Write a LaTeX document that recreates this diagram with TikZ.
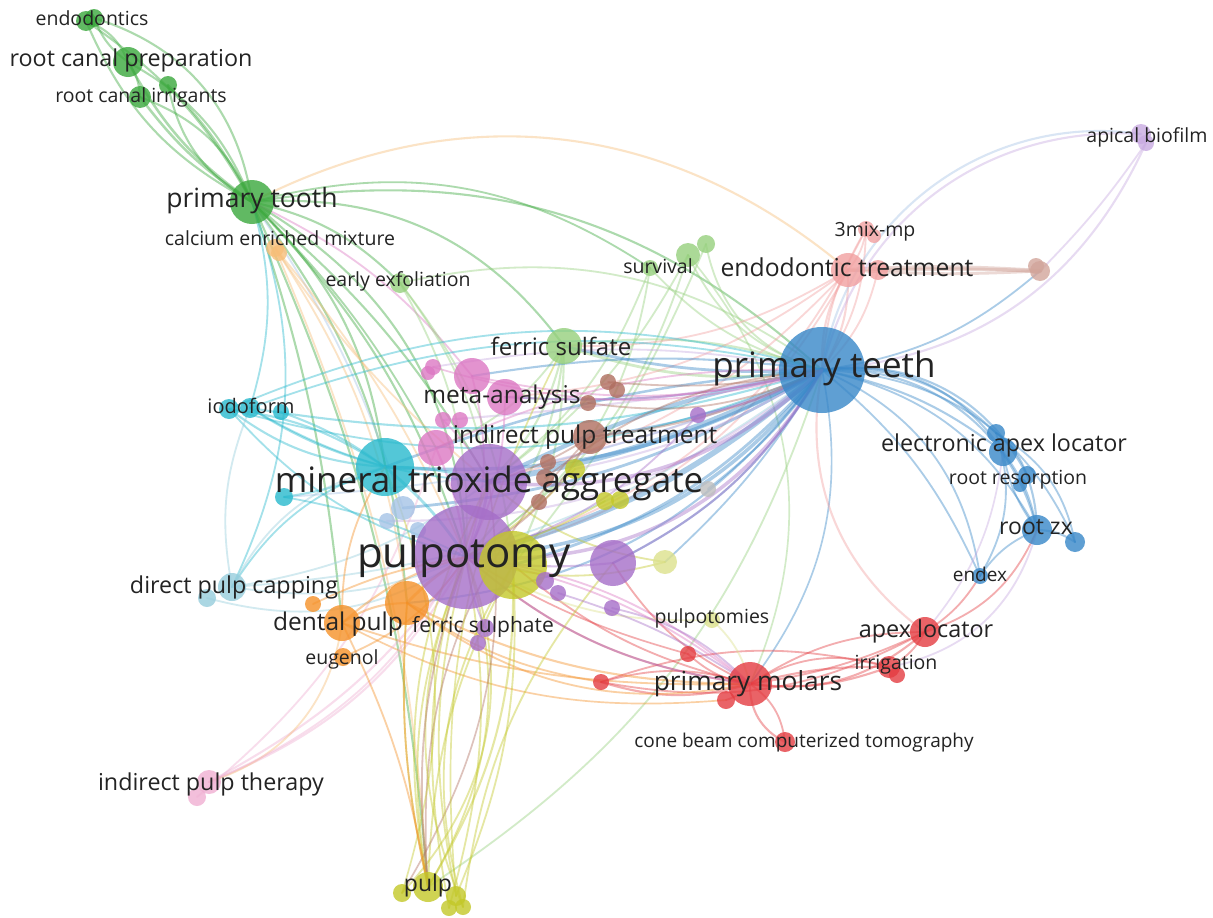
\documentclass[tikz,border=0pt]{standalone}
\usepackage{fontspec}
\setmainfont{Open Sans}
\definecolor{cG}{RGB}{58,168,60}
\definecolor{cLG}{RGB}{150,208,125}
\definecolor{cO}{RGB}{245,145,40}
\definecolor{cLO}{RGB}{247,190,120}
\definecolor{cS}{RGB}{242,160,160}
\definecolor{cBP}{RGB}{210,165,155}
\definecolor{cB}{RGB}{55,135,200}
\definecolor{cLV}{RGB}{200,170,225}
\definecolor{cR}{RGB}{228,60,65}
\definecolor{cC}{RGB}{40,185,205}
\definecolor{cLC}{RGB}{150,205,220}
\definecolor{cP}{RGB}{165,110,200}
\definecolor{cY}{RGB}{195,200,40}
\definecolor{cLY}{RGB}{220,225,140}
\definecolor{cK}{RGB}{220,120,195}
\definecolor{cLP}{RGB}{240,175,210}
\definecolor{cBR}{RGB}{175,110,95}
\definecolor{cLB}{RGB}{165,195,230}
\definecolor{cGR}{RGB}{190,190,190}
\definecolor{txt}{RGB}{35,35,35}
\tikzset{
  lk/.style={draw opacity=0.42, line cap=round},
  dot/.style={circle, inner sep=0pt, draw=none, fill opacity=0.8},
  lbl/.style={font=\fontsize{#1}{#1}\selectfont, text=txt, inner sep=0pt, anchor=base, yshift=-0.27*#1pt}
}
\begin{document}
\begin{tikzpicture}[x=1pt,y=-1pt]
\useasboundingbox (0,0) rectangle (1213,918);
\fill[white] (0,0) rectangle (1213,918);
% coordinates
\coordinate (g1) at (86,21); \coordinate (g1b) at (94,18);
\coordinate (g2) at (128,62); \coordinate (g3) at (140,97); \coordinate (g3b) at (168,85);
\coordinate (g4) at (252,202);
\coordinate (lg1) at (400,283); \coordinate (lg2) at (564,346); \coordinate (lg3) at (650,268);
\coordinate (lg4) at (688,255); \coordinate (lg5) at (706,244);
\coordinate (o0) at (275,248); \coordinate (o0b) at (279,253);
\coordinate (o1) at (342,623); \coordinate (o2) at (407,603); \coordinate (o3) at (313,604); \coordinate (o4) at (343,657);
\coordinate (s1) at (848,270); \coordinate (s2) at (878,270); \coordinate (s3) at (866,229); \coordinate (s3b) at (874,236);
\coordinate (bp) at (1040,271); \coordinate (bpb) at (1036,266);
\coordinate (b1) at (822,370); \coordinate (b2) at (996,433); \coordinate (b2b) at (1003,452);
\coordinate (b3) at (1027,475); \coordinate (b3b) at (1020,485); \coordinate (b4) at (1037,530);
\coordinate (b4b) at (1075,542); \coordinate (b5) at (980,576);
\coordinate (lv1) at (1141,134); \coordinate (lv1b) at (1146,143);
\coordinate (r1) at (750,684); \coordinate (r2) at (925,632); \coordinate (r3) at (889,667); \coordinate (r3b) at (897,675);
\coordinate (r4) at (785,742); \coordinate (r5) at (601,682); \coordinate (r6) at (688,654); \coordinate (r7) at (726,700);
\coordinate (c1) at (385,467); \coordinate (c2) at (229,409); \coordinate (c3) at (250,408); \coordinate (c4) at (281,412); \coordinate (c5) at (284,497);
\coordinate (lc1) at (232,587); \coordinate (lc2) at (207,598);
\coordinate (p1) at (489,482); \coordinate (p2) at (466,557); \coordinate (p3) at (613,563); \coordinate (p4) at (698,415);
\coordinate (p5) at (558,593); \coordinate (p6) at (612,608); \coordinate (p7) at (485,628); \coordinate (p8) at (478,643); \coordinate (p9) at (545,581);
\coordinate (y1) at (513,565); \coordinate (y2) at (575,469); \coordinate (y3) at (605,501); \coordinate (y4) at (620,500);
\coordinate (y5) at (665,562); \coordinate (y6) at (712,620);
\coordinate (y7) at (428,887); \coordinate (y8) at (402,893); \coordinate (y9) at (456,896); \coordinate (y10) at (449,908); \coordinate (y11) at (463,907);
\coordinate (k1) at (472,376); \coordinate (k2) at (505,397); \coordinate (k3) at (433,367); \coordinate (k4) at (428,373);
\coordinate (k5) at (443,420); \coordinate (k6) at (460,420); \coordinate (k7) at (436,448);
\coordinate (lp1) at (209,782); \coordinate (lp2) at (197,797);
\coordinate (br1) at (590,437); \coordinate (br2) at (608,382); \coordinate (br3) at (617,390); \coordinate (br4) at (588,403);
\coordinate (br5) at (548,462); \coordinate (br6) at (545,478); \coordinate (br7) at (539,502);
\coordinate (lb1) at (403,508); \coordinate (lb2) at (387,521); \coordinate (lb3) at (418,530);
\coordinate (gr1) at (708,489);
% edges
\foreach \a/\b/\bd/\c/\w [evaluate=\bd as \bb using \bd*1.6] in {
g1/g2/15/cG/1.5, g1b/g2/-10/cG/1.5, g1/g4/-12/cG/1.5, g1/g4/8/cG/1.5, g1b/g4/20/cG/1.5,
g2/g4/-8/cG/1.8, g2/g4/12/cG/1.5, g2/g3/10/cG/1.5, g3/g4/-6/cG/1.8, g3/g4/14/cG/1.5,
g3b/g4/-15/cG/1.5, g3b/g4/5/cG/1.5, g4/p2/8/cG/1.5, g4/p2/18/cG/1.5, g4/p1/6/cG/1.5,
g4/c1/12/cG/1.5, g4/lg1/10/cG/1.5, g4/lg2/18/cG/1.5, g4/s1/21/cLO/1.5, g4/b1/16/cG/1.5,
g4/y7/6/cG/1.5, g4/o1/4/cG/1.5, g4/o2/10/cG/1.5, g4/c3/10/cC/1.3, g4/lc1/14/cC/1.3,
g4/k1/8/cK/1.3, g4/lg3/15/cG/1.3, g4/k7/5/cG/1.3, g4/lb1/5/cLB/1.3,
o0/p2/5/cLO/1.3, o0/o2/8/cLO/1.3, o0/p1/-5/cLO/1.3, o0/y7/6/cLO/1.3,
lg1/p2/10/cLG/1.3, lg1/p1/8/cLG/1.3, lg1/b1/15/cLG/1.3, lg1/y1/10/cLG/1.3,
lg2/b1/-8/cLG/2, lg2/b1/8/cLG/1.5, lg2/p1/10/cLG/1.5, lg2/p2/12/cLG/1.5, lg2/y1/8/cLG/1.5,
lg2/k7/10/cLG/1.3, lg3/b1/-10/cLG/1.3, lg3/p2/15/cLG/1.3, lg3/p1/10/cLG/1.3,
lg4/b1/-15/cLG/1.3, lg4/p1/8/cLG/1.3, lg4/p2/12/cLG/1.3, lg5/b1/-20/cLG/1.3, lg5/y1/5/cLG/1.3,
y7/b1/-12/cLG/1.3, lg4/r1/20/cLG/1.2,
s1/b1/-10/cS/1.5, s1/b1/10/cS/1.5, s3/b1/-8/cS/1.3, s3/b1/10/cS/1.3, s2/b1/10/cS/1.3,
s3/s1/10/cS/1.3, s1/bp/2/cBP/3, s1/bp/-2/cBP/2, s2/bp/1/cBP/2.5, s1/p1/10/cS/1.3,
s1/p2/15/cS/1.3, s1/lg2/10/cS/1.3, s3/p2/15/cS/1.3, s1/k2/10/cS/1.3,
lv1/b1/-25/cLV/1.5, lv1/b1/-28/cLB/1.5, lv1b/b1/19/cLV/1.5, lv1b/bp/3/cLV/1.3, bp/b1/10/cB/1.3,
b1/b2/15/cB/1.5, b1/b2b/20/cB/1.5, b1/b2b/8/cB/1.5, b1/b3/22/cB/1.5, b1/b4/25/cB/1.5,
b1/b4/15/cB/1.3, b1/b4b/20/cB/1.3, b1/b5/18/cB/1.3, b1/b5/8/cB/1.3,
b2/b3/10/cB/1.3, b2b/b4/8/cB/1.5, b2b/b4/-8/cB/1.3, b3/b4/5/cB/1.5, b4/b4b/10/cB/1.5,
b4/b5/-10/cB/1.3, b2/b5/15/cB/1.3, b2/b4b/15/cB/1.3,
b1/p1/5/cB/4, b1/p1/-5/cB/3, b1/p2/8/cB/4, b1/p2/15/cB/2.5, b1/c1/10/cB/2.5, b1/c1/-5/cB/1.8,
b1/k1/-5/cB/1.5, b1/k2/5/cB/1.5, b1/br1/5/cB/1.5, b1/y1/10/cB/2, b1/lb1/8/cB/2,
b1/c3/8/cC/1.5, b1/c2/12/cC/1.3, b1/r1/15/cB/1.2, b1/lg2/5/cB/2, b1/o2/15/cB/1.5,
b1/lc1/10/cLC/1.3, b1/p3/10/cB/1.5, b1/k7/-8/cK/1.3, b1/r2/-20/cS/1.5,
b1/gr1/5/cB/1.5, b1/y5/5/cB/1.3, b1/k5/2/cLV/1.5, b1/lb2/12/cLV/1.5, b1/br5/3/cLV/1.5,
b1/y2/6/cLV/1.5, b1/c5/6/cLB/1.3, b1/k3/-6/cLV/1.3,
r1/r2/-15/cR/1.5, r1/r2/-5/cR/1.3, r1/r2/10/cR/1.3, r1/r3/-8/cR/1.5, r1/r3/5/cR/1.5,
r1/r3/15/cR/1.3, r2/r3/10/cR/1.3, r1/r4/-20/cR/1.5, r1/r4/15/cR/1.3, r1/r5/10/cR/1.5,
r1/r5/-10/cR/1.3, r1/r6/10/cR/1.3, r1/r7/10/cR/1.3, r1/p2/10/cR/1.5, r1/p2/-10/cK/1.3,
r1/o2/8/cO/1.5, r1/o1/6/cO/1.3, r5/o2/8/cO/1.3, r5/r2/-12/cR/1.3, r5/r3/10/cR/1.3,
r2/b4/-15/cR/1.3, r2/b5/-8/cR/1.3, r3/b4/-20/cLV/1.3, r2/b2b/-10/cLV/1.2,
r1/y1/8/cR/1.3, r1/p3/10/cR/1.3, r6/p2/5/cR/1.2, r7/o1/10/cO/1.2,
k1/b1/-8/cK/1.3, k2/b1/-5/cK/1.3, k3/b1/-10/cK/1.2, k1/p2/10/cK/1.3, k2/p2/8/cK/1.3,
k7/p2/5/cK/1.5, k5/p1/5/cK/1.3, lp1/p2/-12/cLP/1.5, lp1/p2/-8/cLP/1.5, lp2/k7/-10/cLP/1.3,
lp1/o1/-20/cLO/1.3, lp1/p1/-15/cLP/1.3,
y7/p2/-15/cY/1.3, y7/p2/10/cY/1.3, y7/p1/12/cY/1.3, y7/y1/-10/cY/1.5, y7/y1/8/cY/1.3,
y8/p2/-20/cY/1.3, y8/p1/-12/cBR/1.2, y9/y1/-8/cY/1.3, y9/p2/8/cY/1.3, y10/p1/10/cY/1.3,
y11/y1/15/cY/1.3, y11/p3/10/cY/1.3, y7/br1/15/cBR/1.2, y7/o2/5/cY/1.3, y8/c1/-12/cY/1.2,
y9/lg2/10/cY/1.2, y5/p2/10/cY/1.3, y5/p1/10/cY/1.3, y6/r1/10/cLY/1.3, y6/p2/10/cLY/1.3,
y2/p2/5/cY/1.3, y3/p2/5/cY/1.3, y10/p2/-8/cY/1.3, y11/p2/14/cY/1.3,
c1/c2/10/cC/1.5, c1/c2/-8/cC/1.5, c1/c3/5/cC/1.5, c1/c4/-5/cC/1.5, c1/c5/5/cC/1.5,
c2/b1/12/cC/1.3, c3/b1/10/cC/1.3, c2/p2/-10/cC/1.3, c3/p1/-8/cC/1.3, c1/lc1/-12/cC/1.3,
c1/p1/5/cC/2, c1/p2/5/cC/2, lc1/p2/-10/cLC/1.3, lc1/c1/15/cLC/1.3, lc2/p2/-15/cLC/1.3,
lc1/c3/10/cLC/1.3, lc1/p1/-8/cLC/1.3, c5/p2/5/cC/1.3,
o1/p2/8/cO/1.5, o2/p2/5/cO/2, o1/y7/5/cO/1.3, o2/y7/-5/cO/1.3, o3/p2/5/cO/1.3,
o4/p2/-10/cO/1.3, o1/c1/10/cO/1.3, o1/o2/10/cO/1.5, o2/r1/-15/cO/1.3,
br1/b1/-6/cBR/1.5, br2/b1/-5/cBR/1.3, br4/b1/-10/cBR/1.3, br1/p2/10/cBR/1.3, br1/p1/5/cBR/1.3,
br6/b1/10/cBR/1.3,
p1/p2/5/cP/2, p3/p2/5/cP/1.5, p3/b1/-10/cP/1.5, p4/b1/-5/cP/1.5, p4/p2/10/cP/1.3,
p6/r1/10/cP/1.3, p5/r1/5/cP/1.3, p2/r1/-10/cP/1.3, p2/r1/8/cK/1.3, p7/p2/5/cP/1.3,
p2/y7/-8/cBR/1.3, p1/b1/-15/cP/2.5, p2/b1/-20/cP/2.5}
  \draw[lk, draw=\c, line width=\w*1.4pt] (\a) to[bend left=\bb] (\b);
% circles
\foreach \n/\r/\c in {
g1/10/cG, g1b/9/cG, g2/15/cG, g3/11/cG, g3b/9/cG, g4/22/cG,
lg1/10/cLG, lg2/18/cLG, lg3/8/cLG, lg4/12/cLG, lg5/9/cLG,
o0/9/cLO, o0b/8/cLO, o1/18/cO, o2/22/cO, o3/8/cO, o4/9/cO,
s1/17/cS, s2/10/cS, s3/8/cS, s3b/7/cS, bp/10/cBP, bpb/8/cBP,
b1/43/cB, b2/9/cB, b2b/14/cB, b3/9/cB, b3b/7/cB, b4/15/cB, b4b/10/cB, b5/8/cB,
lv1/10/cLV, lv1b/8/cLV,
r1/22/cR, r2/15/cR, r3/11/cR, r3b/8/cR, r4/10/cR, r5/8/cR, r6/8/cR, r7/9/cR,
c1/29/cC, c2/10/cC, c3/10/cC, c4/8/cC, c5/9/cC, lc1/14/cLC, lc2/9/cLC,
k1/18/cK, k2/18/cK, k3/8/cK, k4/7/cK, k5/8/cK, k6/8/cK, k7/18/cK,
br1/17/cBR, br2/8/cBR, br3/8/cBR, br4/8/cBR, br5/8/cBR, br6/9/cBR, br7/8/cBR,
lb1/12/cLB, lb2/8/cLB, lb3/8/cLB, gr1/8/cGR,
p1/38/cP, p2/52/cP, y1/34/cY, p3/23/cP, p4/8/cP, p5/8/cP, p6/8/cP, p7/9/cP, p8/8/cP, p9/9/cP,
y2/10/cY, y3/9/cY, y4/9/cY, y5/12/cLY, y6/8/cLY,
y7/15/cY, y8/9/cY, y9/10/cY, y10/8/cY, y11/8/cY,
lp1/12/cLP, lp2/9/cLP}
  \node[dot, fill=\c, minimum size=2*\r pt] (\n-c) at (\n) {};
% labels
\node[lbl=19.5] (t1) at (92,20) {endodontics};
\node[lbl=23.3] (t2) at (131,60) {root canal preparation};
\node[lbl=19.5] (t3) at (141,97) {root canal irrigants};
\node[lbl=26.5] (t4) at (252,200) {primary tooth};
\node[lbl=19.5] (t5) at (280,240) {calcium enriched mixture};
\node[lbl=19.5] (t6) at (398,281) {early exfoliation};
\node[lbl=24] (t7) at (561,349) {ferric sulfate};
\node[lbl=19.5] (t8) at (658,268) {survival};
\node[lbl=24.7] (t9) at (847,270) {endodontic treatment};
\node[lbl=19.5] (t10) at (875,231) {3mix-mp};
\node[lbl=19.5] (t11) at (1147,137) {apical biofilm};
\node[lbl=35] (t12) at (824,368) {primary teeth};
\node[lbl=24.5] (t13) at (502,397) {meta-analysis};
\node[lbl=24.5] (t14) at (585,437) {indirect pulp treatment};
\node[lbl=20] (t15) at (251,408) {iodoform};
\node[lbl=35] (t16) at (489,483) {mineral trioxide aggregate};
\node[lbl=42] (t17) at (464,556) {pulpotomy};
\node[lbl=23.3] (t18) at (234,587) {direct pulp capping};
\node[lbl=24.5] (t19) at (338,624) {dental pulp};
\node[lbl=19.5] (t20) at (342,659) {eugenol};
\node[lbl=21] (t21) at (483,627) {ferric sulphate};
\node[lbl=19.5] (t22) at (712,618) {pulpotomies};
\node[lbl=23.3] (t23) at (1004,445) {electronic apex locator};
\node[lbl=19.5] (t24) at (1018,479) {root resorption};
\node[lbl=23] (t25) at (1036,528) {root zx};
\node[lbl=19] (t26) at (980,576) {endex};
\node[lbl=23.4] (t27) at (926,631) {apex locator};
\node[lbl=19.5] (t28) at (896,664) {irrigation};
\node[lbl=26.3] (t29) at (748,683) {primary molars};
\node[lbl=19] (t30) at (804,742) {cone beam computerized tomography};
\node[lbl=23.3] (t31) at (211,784) {indirect pulp therapy};
\node[lbl=23] (t32) at (428,885) {pulp};
\end{tikzpicture}
\end{document}
